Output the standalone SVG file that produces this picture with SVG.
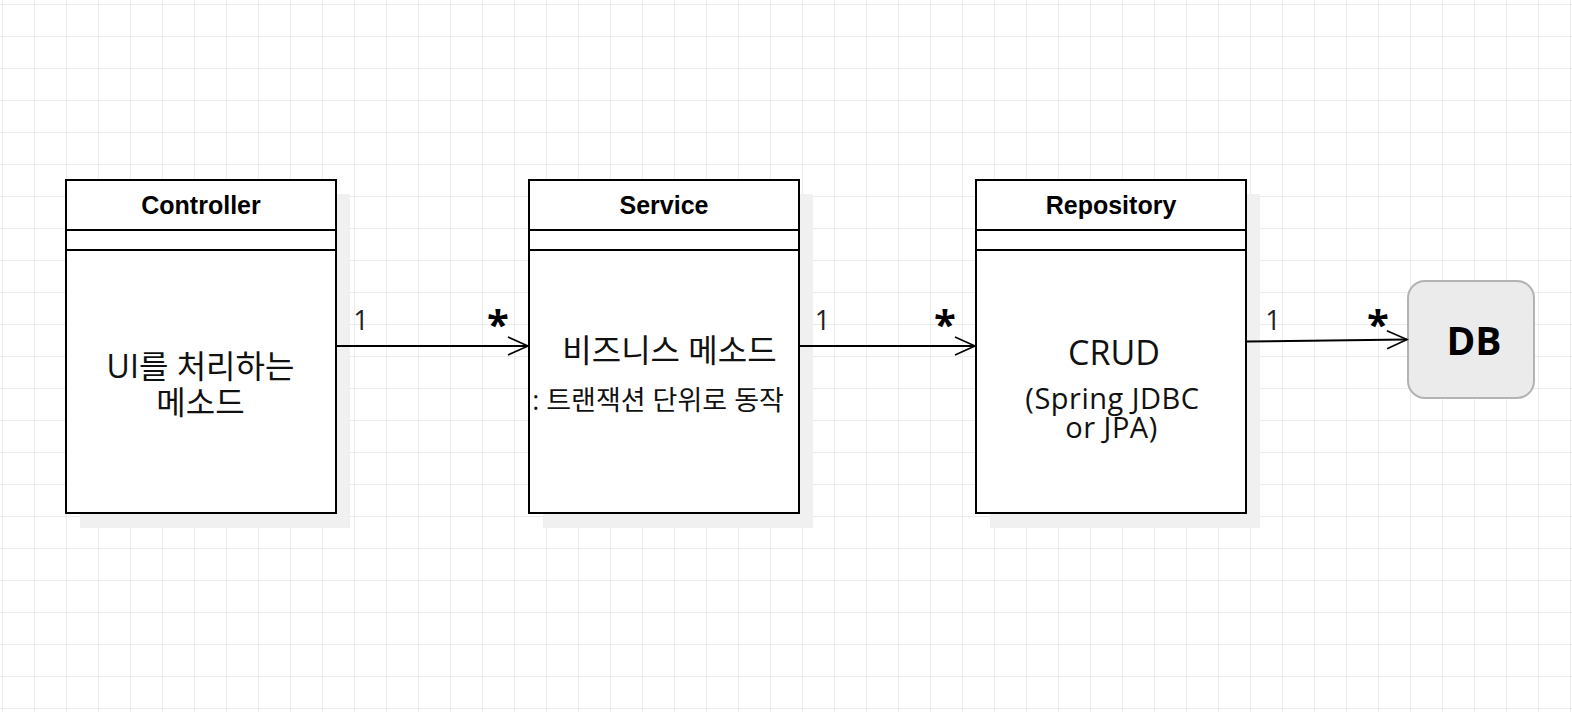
<svg xmlns="http://www.w3.org/2000/svg" width="1572" height="712" viewBox="0 0 1572 712">
  <defs>
    <pattern id="grid" x="2" y="4" width="32" height="32" patternUnits="userSpaceOnUse">
      <path d="M 0.5 0 V 32 M 0 0.5 H 32" fill="none" stroke="#ececec" stroke-width="1"/>
    </pattern>
    <marker id="open" markerUnits="userSpaceOnUse" markerWidth="30" markerHeight="30" viewBox="-25 -15 30 30" refX="0" refY="0" orient="auto" overflow="visible">
      <path d="M -20 -9 L 0 0 L -20 9" fill="none" stroke="#000" stroke-width="1.6"/>
    </marker>
  </defs>
  <style>
    .shadow { fill: #f0f0f0; stroke: none; }
    .box { fill: #ffffff; stroke: #000; stroke-width: 2; }
    .sep { stroke: #000; stroke-width: 2; }
    .hdr { font-family: "Liberation Sans", Arial, sans-serif; font-weight: bold; font-size: 25px; fill: #000; text-anchor: middle; }
    .ko { font-family: "Open Sans", "Noto Sans CJK KR", sans-serif; fill: #111; text-anchor: middle; }
    .big { font-size: 32px; }
    .small { font-size: 27px; }
    .lat { font-family: "Open Sans", "Noto Sans", sans-serif; fill: #111; text-anchor: middle; }
    .one { font-family: "Open Sans", sans-serif; font-size: 27px; fill: #222; text-anchor: middle; }
    .star { font-family: "Open Sans", "DejaVu Sans", sans-serif; font-weight: bold; font-size: 40px; fill: #000; text-anchor: middle; }
    .edge { fill: none; stroke: #000; stroke-width: 2; marker-end: url(#open); }
  </style>
  <rect x="0" y="0" width="1572" height="712" fill="#ffffff"/>
  <rect x="0" y="0" width="1572" height="712" fill="url(#grid)"/>

  <g id="controller">
    <rect class="shadow" x="80" y="194" width="270" height="334"/>
    <rect class="box" x="66" y="180" width="270" height="333"/>
    <line class="sep" x1="66" y1="230" x2="336" y2="230"/>
    <line class="sep" x1="66" y1="250" x2="336" y2="250"/>
    <text class="hdr" x="201" y="214">Controller</text>
    <text class="ko big"><tspan x="200.5" y="378">UI를 처리하는</tspan><tspan x="200.5" y="414">메소드</tspan></text>
  </g>

  <g id="service">
    <rect class="shadow" x="543" y="194" width="270" height="334"/>
    <rect class="box" x="529" y="180" width="270" height="333"/>
    <line class="sep" x1="529" y1="230" x2="799" y2="230"/>
    <line class="sep" x1="529" y1="250" x2="799" y2="250"/>
    <text class="hdr" x="664" y="214">Service</text>
    <text class="ko big" x="669.5" y="362">비즈니스 메소드</text>
    <text class="ko small" x="658" y="410">: 트랜잭션 단위로 동작</text>
  </g>

  <g id="repository">
    <rect class="shadow" x="990" y="194" width="270" height="334"/>
    <rect class="box" x="976" y="180" width="270" height="333"/>
    <line class="sep" x1="976" y1="230" x2="1246" y2="230"/>
    <line class="sep" x1="976" y1="250" x2="1246" y2="250"/>
    <text class="hdr" x="1111" y="214">Repository</text>
    <text class="lat" x="1114" y="365" font-size="34">CRUD</text>
    <text class="lat" font-size="29" letter-spacing="0.5"><tspan x="1112.5" y="409">(Spring JDBC</tspan><tspan x="1111.5" y="438">or JPA)</tspan></text>
  </g>

  <g id="db">
    <rect x="1408" y="281" width="126" height="117" rx="17" ry="17" fill="#ebebeb" stroke="#b3b3b3" stroke-width="2"/>
    <text x="1474" y="355" font-family="'Open Sans', 'Noto Sans', sans-serif" font-weight="bold" font-size="39" fill="#000" text-anchor="middle">DB</text>
  </g>

  <g id="connectors">
    <path class="edge" d="M 337 346 L 528 346"/>
    <path class="edge" d="M 800 346 L 975 346"/>
    <path class="edge" d="M 1247 341.5 L 1407 339.5"/>
    <text class="one" x="361" y="330">1</text>
    <text class="star" x="498" y="339">*</text>
    <text class="one" x="822.5" y="330">1</text>
    <text class="star" x="945" y="339">*</text>
    <text class="one" x="1273" y="330">1</text>
    <text class="star" x="1378" y="339">*</text>
  </g>
</svg>
